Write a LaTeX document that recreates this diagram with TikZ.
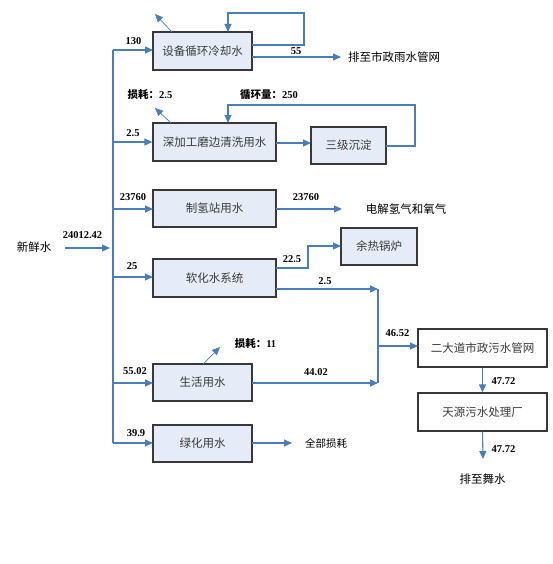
\documentclass[tikz,border=0pt]{standalone}
\usepackage{fontspec}
\setmainfont{Liberation Serif}
\newfontfamily\cjk{Noto Sans CJK SC}
\usetikzlibrary{arrows.meta}
\definecolor{lineblue}{HTML}{4A7EBB}
\definecolor{boxfill}{HTML}{E6ECF7}
\definecolor{boxtext}{HTML}{3A3A3A}
\tikzset{
  flow/.style={draw=lineblue, line width=1.1pt},
  arr/.style={flow, -{Triangle[length=8pt,width=7pt]}},
  thinarr/.style={draw=lineblue, line width=0.7pt, -{Triangle[length=8pt,width=7pt]}},
  proc/.style={draw=black!78, line width=1.3pt, fill=boxfill, inner sep=0pt,
    font=\cjk\fontsize{11.5}{12}\selectfont, text=boxtext},
  wproc/.style={proc, fill=white},
  num/.style={inner sep=0pt, font=\bfseries\fontsize{10.5}{11}\selectfont},
  lab/.style={inner sep=0pt, font=\cjk\fontsize{11.5}{12}\selectfont},
  slab/.style={inner sep=0pt, font=\cjk\fontsize{10.5}{11}\selectfont},
}
\begin{document}
\begin{tikzpicture}[x=1pt,y=-1pt]
\useasboundingbox (0,0) rectangle (552,564);
% boxes
\node[proc, minimum width=99pt, minimum height=38pt] (b1) at (202.5,51) {设备循环冷却水};
\node[proc, minimum width=123pt, minimum height=38pt] (b2) at (214.5,142) {深加工磨边清洗用水};
\node[proc, minimum width=75pt, minimum height=37pt] (b3) at (348.5,145.5) {三级沉淀};
\node[proc, minimum width=123pt, minimum height=37pt] (b4) at (214.5,208.5) {制氢站用水};
\node[proc, minimum width=76pt, minimum height=37pt] (b5) at (379,246.5) {余热锅炉};
\node[proc, minimum width=123pt, minimum height=38pt] (b6) at (214.5,278) {软化水系统};
\node[proc, minimum width=99pt, minimum height=37pt] (b7) at (202.5,382.5) {生活用水};
\node[proc, minimum width=99pt, minimum height=37pt] (b8) at (202.5,443.5) {绿化用水};
\node[wproc, minimum width=129pt, minimum height=38pt] (b9) at (482.5,348) {二大道市政污水管网};
\node[wproc, minimum width=129pt, minimum height=38pt] (b10) at (482.5,412) {天源污水处理厂};

% text nodes
\node[lab] (fresh) at (34,247) {新鲜水};
\node[lab, anchor=west] (out1) at (348,57) {排至市政雨水管网};
\node[lab] (out4) at (406,209) {电解氢气和氧气};
\node[slab] (out8) at (326,443) {全部损耗};
\node[lab] (out10) at (482.5,479) {排至舞水};

% coordinates
\coordinate (e1) at (341,57);
\coordinate (l1) at (155,14);
\coordinate (l2) at (155,108);
\coordinate (l7) at (220,347);
\coordinate (e4) at (342,209);
\coordinate (e8) at (292,443);
\coordinate (e10) at (483,459);
\coordinate (fw) at (65,248);
\coordinate (fe) at (110,248);

% trunk
\draw[flow] (113,50) -- (113,443);
\draw[arr] (fw) -- (fe);
\draw[arr] (113,50) -- (153,50);
\draw[arr] (113,142) -- (b2.west);
\draw[arr] (113,209) -- (153,209);
\draw[arr] (113,277) -- (153,277);
\draw[arr] (113,383) -- (153,383);
\draw[arr] (113,443) -- (153,443);

% b1
\draw[arr] (252,45) -- (304,45) -- (304,13) -- (228,13) -- (228,32);
\draw[thinarr] (172,32) -- (l1);
\draw[arr] (252,57) -- (e1);

% b2, b3
\draw[thinarr] (171,123) -- (l2);
\draw[arr] (276,143) -- (311,143);
\draw[arr] (386,146) -- (415,146) -- (415,105) -- (228,105) -- (228,123);

% b4
\draw[arr] (276,209) -- (e4);

% b6
\draw[arr] (276,268) -- (308,268) -- (308,246) -- (341,246);
\draw[arr] (276,289) -- (378,289);
\draw[flow] (378,289) -- (378,383);
\draw[arr] (378,346) -- (418,346);

% b7
\draw[thinarr] (203,364) -- (l7);
\draw[arr] (252,383) -- (378,383);

% b8
\draw[arr] (252,443) -- (e8);

% b9, b10
\draw[arr] (b9.south) -- (b10.north);
\draw[arr] (b10.south) -- (e10);

% numbers
\node[num] (n1) at (133.5,41) {130};
\node[num] (n2) at (296,51) {55};
\node[inner sep=0pt] (n3) at (150,95) {\cjk\bfseries\fontsize{10.5}{11}\selectfont 损耗：\rmfamily 2.5};
\node[inner sep=0pt] (n4) at (269,95) {\cjk\bfseries\fontsize{10.5}{11}\selectfont 循环量：\rmfamily 250};
\node[num] (n5) at (133,133) {2.5};
\node[num] (n6) at (133,197) {23760};
\node[num] (n7) at (306,197) {23760};
\node[num] (n8) at (82.5,235) {24012.42};
\node[num] (n9) at (132,266) {25};
\node[num] (n10) at (292,259) {22.5};
\node[num] (n11) at (325,281) {2.5};
\node[num] (n12) at (397.5,333) {46.52};
\node[num] (n13) at (503.5,381) {47.72};
\node[num] (n14) at (503.5,449) {47.72};
\node[inner sep=0pt] (n15) at (255.5,344) {\cjk\bfseries\fontsize{10.5}{11}\selectfont 损耗：\rmfamily 11};
\node[num] (n16) at (135,371) {55.02};
\node[num] (n17) at (316,372) {44.02};
\node[num] (n18) at (136,433) {39.9};
\end{tikzpicture}
\end{document}
